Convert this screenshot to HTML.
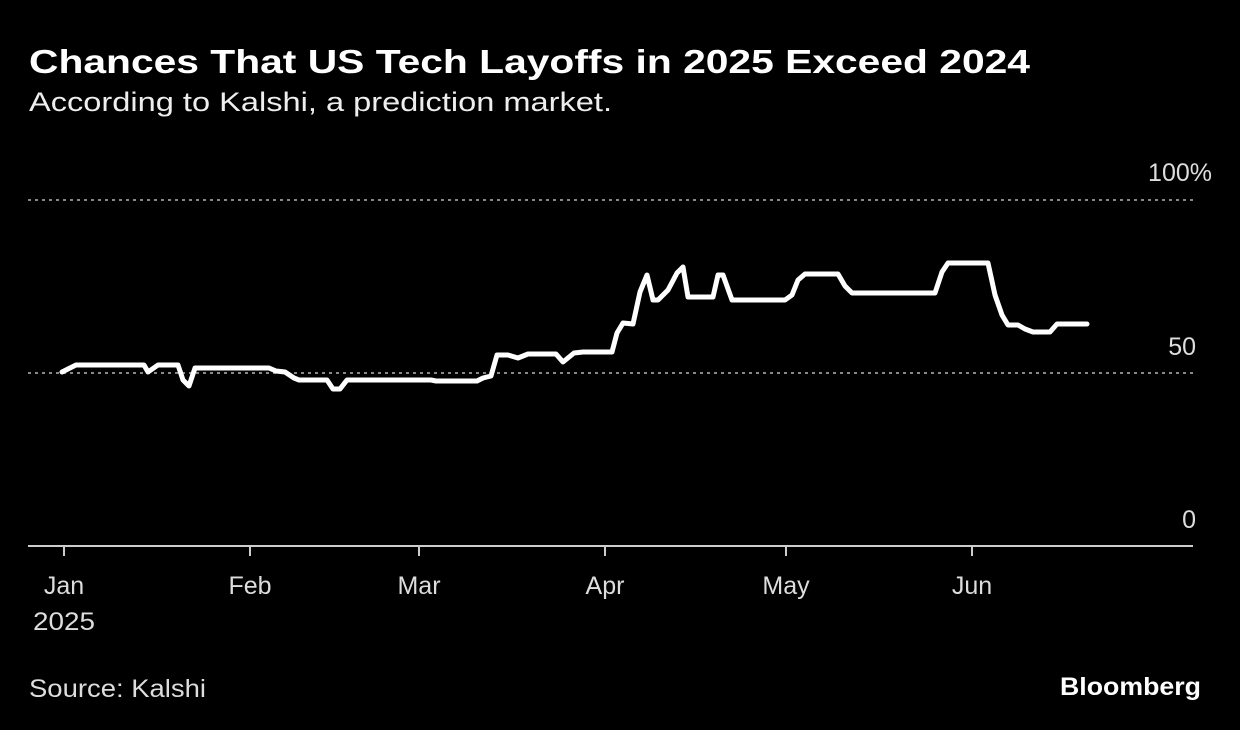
<!DOCTYPE html>
<html><head><style>
body{margin:0;background:#000;width:1240px;height:730px;overflow:hidden;font-family:"Liberation Sans",sans-serif;color:#fff}
</style></head><body>
<svg width="1240" height="730" style="position:absolute;left:0;top:0">
<text x="29" y="73" fill="#fff" font-size="33" font-weight="bold" font-family="Liberation Sans, sans-serif" textLength="1001" lengthAdjust="spacingAndGlyphs">Chances That US Tech Layoffs in 2025 Exceed 2024</text>
<text x="29" y="111" fill="#eee" font-size="27" font-family="Liberation Sans, sans-serif" textLength="583" lengthAdjust="spacingAndGlyphs">According to Kalshi, a prediction market.</text>
<g stroke="#888" stroke-width="2" stroke-dasharray="3,4">
<line x1="28" y1="200" x2="1193" y2="200"/>
<line x1="28" y1="373" x2="1193" y2="373"/>
</g>
<line x1="28" y1="546" x2="1193" y2="546" stroke="#ccc" stroke-width="2"/>
<g stroke="#ccc" stroke-width="2">
<line x1="64" y1="546" x2="64" y2="556"/><line x1="250" y1="546" x2="250" y2="556"/>
<line x1="419" y1="546" x2="419" y2="556"/><line x1="605" y1="546" x2="605" y2="556"/>
<line x1="786" y1="546" x2="786" y2="556"/><line x1="972" y1="546" x2="972" y2="556"/>
</g>
<g fill="#ddd" font-size="25" font-family="Liberation Sans, sans-serif">
<text x="1212" y="181" text-anchor="end">100%</text>
<text x="1196" y="355" text-anchor="end">50</text>
<text x="1196" y="528" text-anchor="end">0</text>
<text x="64" y="594" text-anchor="middle">Jan</text>
<text x="33" y="630" textLength="62" lengthAdjust="spacingAndGlyphs">2025</text>
<text x="250" y="594" text-anchor="middle">Feb</text>
<text x="419" y="594" text-anchor="middle">Mar</text>
<text x="605" y="594" text-anchor="middle">Apr</text>
<text x="786" y="594" text-anchor="middle">May</text>
<text x="972" y="594" text-anchor="middle">Jun</text>
<text x="29" y="697" textLength="177" lengthAdjust="spacingAndGlyphs">Source: Kalshi</text>
</g>
<text x="1060" y="695" fill="#fff" font-size="25" font-weight="bold" font-family="Liberation Sans, sans-serif" textLength="141" lengthAdjust="spacingAndGlyphs">Bloomberg</text>
<polyline fill="none" stroke="#fff" stroke-width="5" stroke-linejoin="round" stroke-linecap="round" points="62,372 76,365 144,365 148,372 158,365 178,365 183,380 189,386 195,368 269,368 276,371 285,372 294,378 299,380 327,380 333,389 340,389 347,380 431,380 436,381 477,381 483,378 491,376 497,355 508,355 518,358 528,354 556,354 563,362 574,353 583,352 612,352 617,333 623,323 633,324 640,292 647,275 653,300 658,300 668,290 677,273 683,267 688,297 713,297 718,275 723,275 732,300 785,300 792,295 798,280 805,274 838,274 845,286 852,293 935,293 942,272 948,263 988,263 995,295 1002,315 1008,325 1018,325 1025,329 1033,332 1050,332 1057,324 1087,324"/>
</svg>
</body></html>
